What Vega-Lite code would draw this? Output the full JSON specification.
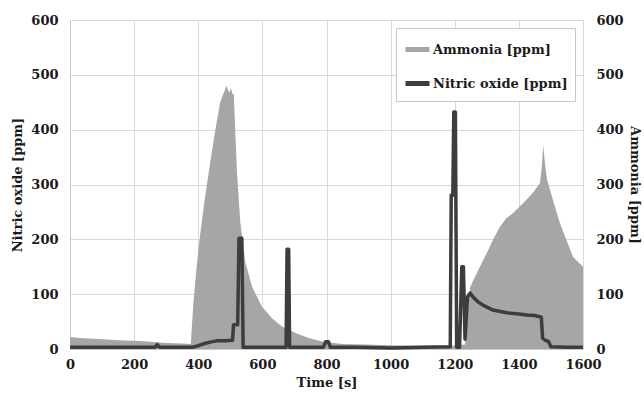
{
  "$schema": "https://vega.github.io/schema/vega-lite/v6.json",
  "width": 513,
  "height": 329,
  "autosize": {"type": "none"},
  "padding": {"left": 70, "top": 20, "right": 61, "bottom": 49},
  "background": "white",
  "config": {
    "font": "DejaVu Serif",
    "view": {"stroke": null},
    "axis": {
      "labelFont": "DejaVu Serif",
      "labelFontWeight": "bold",
      "labelFontSize": 13,
      "labelColor": "#1a1a1a",
      "titleFont": "DejaVu Serif",
      "titleFontWeight": "bold",
      "titleFontSize": 13,
      "titleColor": "#1a1a1a",
      "ticks": false,
      "domainColor": "#c8c8c8",
      "gridColor": "#d9d9d9",
      "gridWidth": 1
    },
    "legend": {
      "labelFont": "DejaVu Serif",
      "labelFontWeight": "bold",
      "labelFontSize": 13,
      "labelColor": "#1a1a1a"
    }
  },
  "datasets": {
    "ammonia": [
      {"t": 0, "v": 22, "series": "Ammonia [ppm]"},
      {"t": 30, "v": 20, "series": "Ammonia [ppm]"},
      {"t": 60, "v": 19, "series": "Ammonia [ppm]"},
      {"t": 100, "v": 18, "series": "Ammonia [ppm]"},
      {"t": 150, "v": 16, "series": "Ammonia [ppm]"},
      {"t": 200, "v": 15, "series": "Ammonia [ppm]"},
      {"t": 250, "v": 13, "series": "Ammonia [ppm]"},
      {"t": 300, "v": 11, "series": "Ammonia [ppm]"},
      {"t": 350, "v": 10, "series": "Ammonia [ppm]"},
      {"t": 377, "v": 9, "series": "Ammonia [ppm]"},
      {"t": 380, "v": 40, "series": "Ammonia [ppm]"},
      {"t": 385, "v": 84, "series": "Ammonia [ppm]"},
      {"t": 395, "v": 150, "series": "Ammonia [ppm]"},
      {"t": 405, "v": 204, "series": "Ammonia [ppm]"},
      {"t": 420, "v": 272, "series": "Ammonia [ppm]"},
      {"t": 437, "v": 339, "series": "Ammonia [ppm]"},
      {"t": 452, "v": 395, "series": "Ammonia [ppm]"},
      {"t": 468, "v": 449, "series": "Ammonia [ppm]"},
      {"t": 480, "v": 468, "series": "Ammonia [ppm]"},
      {"t": 488, "v": 480, "series": "Ammonia [ppm]"},
      {"t": 493, "v": 472, "series": "Ammonia [ppm]"},
      {"t": 497, "v": 468, "series": "Ammonia [ppm]"},
      {"t": 502, "v": 476, "series": "Ammonia [ppm]"},
      {"t": 507, "v": 464, "series": "Ammonia [ppm]"},
      {"t": 511, "v": 466, "series": "Ammonia [ppm]"},
      {"t": 516, "v": 390, "series": "Ammonia [ppm]"},
      {"t": 521, "v": 320, "series": "Ammonia [ppm]"},
      {"t": 531, "v": 232, "series": "Ammonia [ppm]"},
      {"t": 547, "v": 158, "series": "Ammonia [ppm]"},
      {"t": 568, "v": 113, "series": "Ammonia [ppm]"},
      {"t": 599, "v": 77, "series": "Ammonia [ppm]"},
      {"t": 630, "v": 56, "series": "Ammonia [ppm]"},
      {"t": 661, "v": 41, "series": "Ammonia [ppm]"},
      {"t": 703, "v": 29, "series": "Ammonia [ppm]"},
      {"t": 744, "v": 20, "series": "Ammonia [ppm]"},
      {"t": 790, "v": 13, "series": "Ammonia [ppm]"},
      {"t": 850, "v": 9, "series": "Ammonia [ppm]"},
      {"t": 920, "v": 8, "series": "Ammonia [ppm]"},
      {"t": 1000, "v": 7, "series": "Ammonia [ppm]"},
      {"t": 1100, "v": 6, "series": "Ammonia [ppm]"},
      {"t": 1190, "v": 6, "series": "Ammonia [ppm]"},
      {"t": 1232, "v": 8, "series": "Ammonia [ppm]"},
      {"t": 1240, "v": 60, "series": "Ammonia [ppm]"},
      {"t": 1248, "v": 113, "series": "Ammonia [ppm]"},
      {"t": 1270, "v": 140, "series": "Ammonia [ppm]"},
      {"t": 1300, "v": 175, "series": "Ammonia [ppm]"},
      {"t": 1320, "v": 200, "series": "Ammonia [ppm]"},
      {"t": 1341, "v": 223, "series": "Ammonia [ppm]"},
      {"t": 1360, "v": 238, "series": "Ammonia [ppm]"},
      {"t": 1382, "v": 248, "series": "Ammonia [ppm]"},
      {"t": 1413, "v": 266, "series": "Ammonia [ppm]"},
      {"t": 1444, "v": 285, "series": "Ammonia [ppm]"},
      {"t": 1466, "v": 303, "series": "Ammonia [ppm]"},
      {"t": 1471, "v": 330, "series": "Ammonia [ppm]"},
      {"t": 1476, "v": 372, "series": "Ammonia [ppm]"},
      {"t": 1481, "v": 340, "series": "Ammonia [ppm]"},
      {"t": 1488, "v": 308, "series": "Ammonia [ppm]"},
      {"t": 1508, "v": 268, "series": "Ammonia [ppm]"},
      {"t": 1528, "v": 230, "series": "Ammonia [ppm]"},
      {"t": 1550, "v": 196, "series": "Ammonia [ppm]"},
      {"t": 1569, "v": 168, "series": "Ammonia [ppm]"},
      {"t": 1600, "v": 150, "series": "Ammonia [ppm]"}
    ],
    "no": [
      {"t": 0, "v": 3, "series": "Nitric oxide [ppm]"},
      {"t": 100, "v": 3, "series": "Nitric oxide [ppm]"},
      {"t": 200, "v": 3, "series": "Nitric oxide [ppm]"},
      {"t": 265, "v": 3, "series": "Nitric oxide [ppm]"},
      {"t": 272, "v": 8, "series": "Nitric oxide [ppm]"},
      {"t": 280, "v": 3, "series": "Nitric oxide [ppm]"},
      {"t": 380, "v": 3, "series": "Nitric oxide [ppm]"},
      {"t": 400, "v": 6, "series": "Nitric oxide [ppm]"},
      {"t": 420, "v": 10, "series": "Nitric oxide [ppm]"},
      {"t": 440, "v": 13, "series": "Nitric oxide [ppm]"},
      {"t": 460, "v": 15, "series": "Nitric oxide [ppm]"},
      {"t": 485, "v": 15, "series": "Nitric oxide [ppm]"},
      {"t": 507, "v": 16, "series": "Nitric oxide [ppm]"},
      {"t": 510, "v": 44, "series": "Nitric oxide [ppm]"},
      {"t": 523, "v": 44, "series": "Nitric oxide [ppm]"},
      {"t": 527, "v": 202, "series": "Nitric oxide [ppm]"},
      {"t": 536, "v": 202, "series": "Nitric oxide [ppm]"},
      {"t": 540, "v": 3, "series": "Nitric oxide [ppm]"},
      {"t": 600, "v": 3, "series": "Nitric oxide [ppm]"},
      {"t": 674, "v": 3, "series": "Nitric oxide [ppm]"},
      {"t": 677, "v": 182, "series": "Nitric oxide [ppm]"},
      {"t": 682, "v": 182, "series": "Nitric oxide [ppm]"},
      {"t": 685, "v": 3, "series": "Nitric oxide [ppm]"},
      {"t": 790, "v": 3, "series": "Nitric oxide [ppm]"},
      {"t": 797, "v": 13, "series": "Nitric oxide [ppm]"},
      {"t": 806, "v": 13, "series": "Nitric oxide [ppm]"},
      {"t": 812, "v": 3, "series": "Nitric oxide [ppm]"},
      {"t": 900, "v": 3, "series": "Nitric oxide [ppm]"},
      {"t": 1000, "v": 2, "series": "Nitric oxide [ppm]"},
      {"t": 1100, "v": 3, "series": "Nitric oxide [ppm]"},
      {"t": 1186, "v": 4, "series": "Nitric oxide [ppm]"},
      {"t": 1189, "v": 281, "series": "Nitric oxide [ppm]"},
      {"t": 1194, "v": 281, "series": "Nitric oxide [ppm]"},
      {"t": 1197, "v": 432, "series": "Nitric oxide [ppm]"},
      {"t": 1202, "v": 432, "series": "Nitric oxide [ppm]"},
      {"t": 1206, "v": 3, "series": "Nitric oxide [ppm]"},
      {"t": 1215, "v": 3, "series": "Nitric oxide [ppm]"},
      {"t": 1222, "v": 150, "series": "Nitric oxide [ppm]"},
      {"t": 1227, "v": 150, "series": "Nitric oxide [ppm]"},
      {"t": 1232, "v": 18, "series": "Nitric oxide [ppm]"},
      {"t": 1240, "v": 95, "series": "Nitric oxide [ppm]"},
      {"t": 1248, "v": 102, "series": "Nitric oxide [ppm]"},
      {"t": 1257, "v": 95, "series": "Nitric oxide [ppm]"},
      {"t": 1272, "v": 86, "series": "Nitric oxide [ppm]"},
      {"t": 1288, "v": 80, "series": "Nitric oxide [ppm]"},
      {"t": 1319, "v": 71, "series": "Nitric oxide [ppm]"},
      {"t": 1363, "v": 66, "series": "Nitric oxide [ppm]"},
      {"t": 1400, "v": 64, "series": "Nitric oxide [ppm]"},
      {"t": 1425, "v": 62, "series": "Nitric oxide [ppm]"},
      {"t": 1450, "v": 61, "series": "Nitric oxide [ppm]"},
      {"t": 1470, "v": 58, "series": "Nitric oxide [ppm]"},
      {"t": 1474, "v": 20, "series": "Nitric oxide [ppm]"},
      {"t": 1482, "v": 16, "series": "Nitric oxide [ppm]"},
      {"t": 1492, "v": 14, "series": "Nitric oxide [ppm]"},
      {"t": 1500, "v": 4, "series": "Nitric oxide [ppm]"},
      {"t": 1550, "v": 3, "series": "Nitric oxide [ppm]"},
      {"t": 1600, "v": 3, "series": "Nitric oxide [ppm]"}
    ]
  },
  "layer": [
    {
      "data": {"name": "ammonia"},
      "mark": {"type": "area", "interpolate": "linear"},
      "encoding": {
        "x": {
          "field": "t", "type": "quantitative",
          "scale": {"domain": [0, 1600], "nice": false},
          "axis": {"values": [0, 200, 400, 600, 800, 1000, 1200, 1400, 1600], "format": "d", "title": "Time [s]", "grid": true, "labelPadding": 9, "titlePadding": 5, "labelFlush": false}
        },
        "y": {
          "field": "v", "type": "quantitative",
          "scale": {"domain": [0, 600], "nice": false},
          "axis": {"orient": "right", "title": "Ammonia [ppm]", "grid": false, "values": [0, 100, 200, 300, 400, 500, 600], "labelPadding": 13, "titlePadding": 4, "domain": false}
        },
        "color": {
          "field": "series", "type": "nominal",
          "scale": {"domain": ["Ammonia [ppm]", "Nitric oxide [ppm]"], "range": ["#a6a6a6", "#3d3d3d"]},
          "legend": {"title": null, "orient": "none", "legendX": 326, "legendY": 8, "fillColor": "white", "strokeColor": "#c8c8c8", "padding": 7, "rowPadding": 9, "symbolType": "stroke", "symbolSize": 576, "symbolStrokeWidth": 5, "labelOffset": 1}
        }
      }
    },
    {
      "data": {"name": "no"},
      "mark": {"type": "line", "interpolate": "linear", "strokeWidth": 3.5, "strokeJoin": "round"},
      "encoding": {
        "x": {"field": "t", "type": "quantitative"},
        "y": {
          "field": "v", "type": "quantitative",
          "scale": {"domain": [0, 600], "nice": false},
          "axis": {"orient": "left", "title": "Nitric oxide [ppm]", "grid": true, "values": [0, 100, 200, 300, 400, 500, 600], "labelPadding": 12, "titlePadding": 6}
        },
        "color": {"field": "series", "type": "nominal"}
      }
    }
  ],
  "resolve": {"scale": {"y": "independent"}}
}
